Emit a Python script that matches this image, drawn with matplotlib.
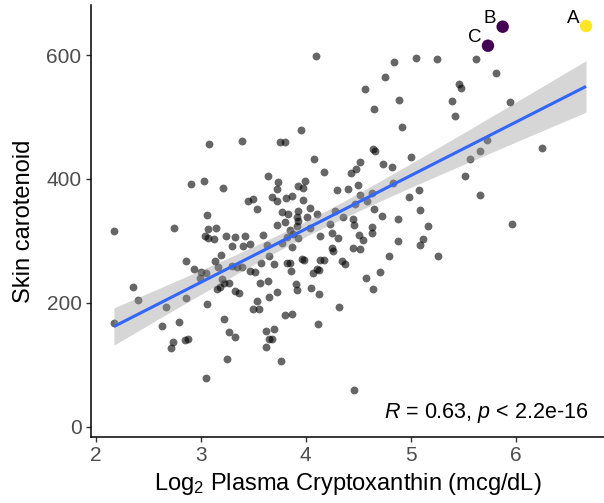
import numpy as np
import matplotlib
matplotlib.use("Agg")
import matplotlib.pyplot as plt

plt.rcParams['font.family'] = ['Liberation Sans', 'DejaVu Sans']
plt.rcParams['mathtext.fontset'] = 'custom'
plt.rcParams['mathtext.rm'] = 'Liberation Sans'
plt.rcParams['mathtext.it'] = 'Liberation Sans:italic'

# Log2 plasma cryptoxanthin (x) and skin carotenoid (y)
x_vals = [
    4.095, 4.838, 5.050, 5.250, 5.619, 4.752, 5.810, 5.463, 5.476, 4.562,
    4.891, 4.648, 5.393, 5.946, 5.422, 4.917, 3.952, 5.727, 5.657, 6.253,
    4.641, 4.660, 3.079, 3.390, 3.755, 3.803, 4.079, 4.177, 5.006, 4.520,
    4.476, 4.429, 4.733, 4.825, 5.562, 5.514, 3.638, 2.908, 3.029, 3.210,
    3.736, 3.727, 3.931, 3.979, 3.993, 4.298, 4.406, 4.495, 4.829, 5.076,
    4.984, 5.663, 4.514, 4.634, 4.587, 4.467, 3.453, 3.501, 3.539, 3.676,
    3.724, 3.808, 3.872, 3.971, 3.063, 3.771, 3.834, 3.924, 3.914, 4.041,
    4.105, 4.648, 4.724, 4.879, 5.091, 4.448, 4.352, 4.279, 4.010, 3.803,
    3.924, 3.724, 3.914, 4.041, 3.930, 4.231, 4.248, 4.310, 4.460, 4.508,
    4.546, 4.629, 4.634, 5.165, 5.968, 5.114, 4.514, 4.882, 5.091, 4.793,
    5.260, 4.133, 3.850, 3.882, 2.749, 3.072, 3.146, 3.038, 3.072, 3.130,
    3.241, 3.327, 3.422, 3.295, 3.400, 3.470, 3.590, 3.819, 2.174, 4.248,
    4.453, 3.867, 4.263, 3.968, 3.984, 4.136, 4.177, 4.349, 4.377, 3.850,
    4.108, 4.130, 4.067, 3.863, 4.710, 4.571, 3.905, 3.914, 4.053, 4.130,
    4.641, 4.314, 3.872, 4.120, 2.860, 3.193, 3.136, 3.162, 2.936, 3.003,
    3.048, 2.993, 3.301, 3.343, 3.390, 3.470, 3.517, 3.571, 3.701, 3.653,
    3.825, 3.206, 3.222, 3.270, 3.158, 3.184, 3.565, 3.644, 3.327, 3.368,
    3.724, 3.653, 2.860, 3.063, 3.533, 3.501, 3.558, 3.803, 2.796, 3.225,
    3.267, 3.330, 2.739, 2.717, 2.850, 2.882, 3.622, 3.698, 3.676, 3.655,
    3.625, 3.253, 3.768, 2.355, 2.403, 2.174, 2.672, 2.629, 3.048, 4.457,
    3.629, 3.771,
]
y_vals = [
    598.4, 588.7, 594.6, 594.0, 594.0, 564.9, 570.9, 553.6, 546.2, 545.1,
    526.8, 512.3, 525.2, 523.6, 501.9, 483.7, 478.4, 463.2, 444.4, 450.3,
    448.2, 445.7, 455.8, 460.6, 459.0, 460.0, 432.0, 411.5, 435.2, 427.7,
    416.3, 409.4, 423.5, 418.6, 431.5, 404.1, 405.0, 391.2, 397.0, 384.7,
    395.4, 383.6, 389.2, 386.0, 396.5, 382.4, 383.6, 390.0, 393.7, 382.4,
    370.2, 373.9, 373.4, 377.6, 363.7, 359.3, 364.2, 367.4, 351.7, 371.1,
    364.2, 369.0, 372.3, 366.6, 341.6, 346.4, 343.2, 348.5, 339.2, 352.4,
    344.0, 350.8, 340.0, 335.1, 350.1, 335.9, 337.9, 348.5, 338.8, 330.8,
    332.4, 325.4, 323.8, 320.1, 303.9, 326.6, 312.0, 303.9, 324.9, 309.8,
    301.2, 321.7, 313.0, 324.3, 327.5, 302.3, 286.2, 300.4, 292.6, 275.8,
    275.4, 308.1, 317.3, 310.9, 321.1, 319.4, 320.1, 307.2, 304.9, 302.8,
    307.2, 305.6, 307.2, 291.5, 291.5, 294.7, 309.3, 306.5, 315.7, 287.8,
    287.8, 290.4, 283.0, 270.5, 269.7, 268.9, 269.4, 267.3, 262.0, 263.6,
    254.4, 252.7, 248.4, 251.1, 249.5, 240.3, 230.6, 220.0, 223.7, 213.5,
    222.1, 192.5, 182.2, 166.0, 267.3, 277.5, 267.8, 257.1, 254.4, 249.0,
    248.4, 240.3, 259.7, 258.1, 258.1, 251.1, 250.0, 264.5, 262.4, 275.8,
    264.5, 237.7, 231.3, 232.2, 222.1, 225.8, 232.2, 235.5, 219.3, 215.1,
    216.7, 208.7, 207.5, 198.6, 203.2, 189.8, 190.2, 180.1, 169.3, 174.1,
    152.1, 145.0, 137.0, 126.3, 139.7, 141.8, 154.7, 157.0, 141.8, 141.3,
    128.9, 109.5, 106.3, 224.8, 204.3, 166.7, 192.5, 162.3, 77.8, 59.4,
    293.1, 295.9,
]

# Highlighted samples
hl_labels = ["A", "B", "C"]
hl_x = [6.670, 5.876, 5.736]
hl_y = [646.8, 645.7, 615.0]
hl_colors = ["#FDE725", "#440154", "#440154"]

x_ticks = [2, 3, 4, 5, 6]
y_ticks = [0, 200, 400, 600]
stat_text = r"$\mathit{R}$ = 0.63, $\mathit{p}$ < 2.2e-16"
x_label = r"Log$_2$ Plasma Cryptoxanthin (mcg/dL)"
y_label = "Skin carotenoid"

fig = plt.figure(figsize=(6.04, 5.03), dpi=100)
ax = fig.add_axes([0.150, 0.131, 0.850, 0.859])

ax.scatter(x_vals, y_vals, s=32, color="black", alpha=0.6, linewidths=0, zorder=2)

# linear fit with 95% confidence band (computed from data)
all_x = np.array(x_vals + hl_x)
all_y = np.array(y_vals + hl_y)
n = len(all_x)
slope, intercept = np.polyfit(all_x, all_y, 1)
resid = all_y - (slope * all_x + intercept)
s_err = np.sqrt(np.sum(resid ** 2) / (n - 2))
xbar = all_x.mean()
sxx = np.sum((all_x - xbar) ** 2)
xs = np.linspace(all_x.min(), all_x.max(), 200)
ys = slope * xs + intercept
se = s_err * np.sqrt(1.0 / n + (xs - xbar) ** 2 / sxx)
tval = 1.971
ax.fill_between(xs, ys - tval * se, ys + tval * se, color="#999999", alpha=0.4,
                linewidth=0, zorder=3)
ax.plot(xs, ys, color="#3366FF", lw=2.2, zorder=4, solid_capstyle="butt")

ax.scatter(hl_x, hl_y, s=80, c=hl_colors, linewidths=0, zorder=5)
for lab, xx, yy in zip(hl_labels, hl_x, hl_y):
    ax.annotate(lab, (xx, yy), xytext=(-4.5, 2.5), textcoords="offset points",
                ha="right", va="baseline", fontsize=13.5, color="black", zorder=6)

ax.text(0.969, 0.028, stat_text, transform=ax.transAxes, ha="right", va="bottom",
        fontsize=15.5, color="black")

ax.set_xlim(1.952, 6.841)
ax.set_ylim(-17.0, 680.7)
ax.set_xticks(x_ticks)
ax.set_yticks(y_ticks)
ax.tick_params(axis="both", colors="#333333", labelcolor="#4D4D4D", labelsize=15,
               length=3.5, width=1.0, direction="out", pad=3)
for side in ["top", "right"]:
    ax.spines[side].set_visible(False)
for side in ["left", "bottom"]:
    ax.spines[side].set_linewidth(1.1)
    ax.spines[side].set_color("black")

ax.set_xlabel(x_label, fontsize=17, color="black", labelpad=4)
ax.set_ylabel(y_label, fontsize=17, color="black", labelpad=8)

fig.savefig("out.png", dpi=100)
